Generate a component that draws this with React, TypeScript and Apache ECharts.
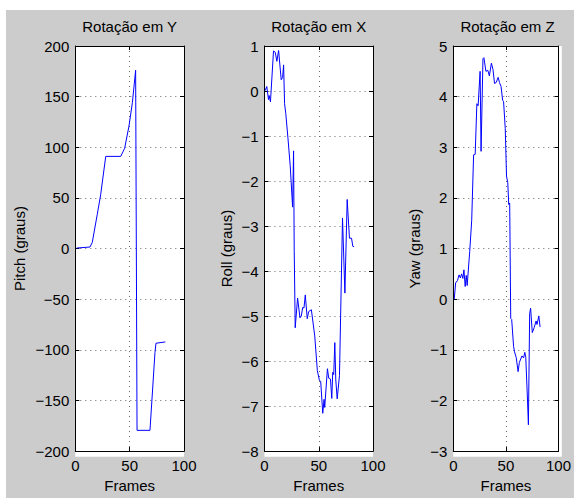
import React, { useEffect, useRef } from "react";
import * as echarts from "echarts";

const titles = ["Rotação em Y", "Rotação em X", "Rotação em Z"];
const yNames = ["Pitch (graus)", "Roll (graus)", "Yaw (graus)"];
const xName = "Frames";
const xTicks = { min: 0, max: 100, interval: 50 };
const yRanges = [
  { min: -200, max: 200, interval: 50 },
  { min: -8, max: 1, interval: 1 },
  { min: -3, max: 5, interval: 1 },
];

const pitchFrames = [1.3, 13.5, 15.6, 20.2, 23.3, 28, 41.8, 45.4, 49.4, 52.5, 55.5, 56.8, 68.7, 73.3, 74.2, 82.8];
const pitchValues = [0.5, 1.5, 6, 33.7, 53, 91, 91, 99, 121, 144, 176, -179.5, -179.5, -102.6, -93.5, -92.2];

const rollFrames = [0.6, 2.1, 3.7, 4.3, 5.5, 8.3, 9.9, 11.4, 13, 15.4, 16.7, 17.6, 18.5, 19.6, 21.6, 23.7, 25.9, 26.8, 27.4, 28.3, 30.5, 32.7, 33.9, 35.2, 36.4, 37.6, 39.4, 40.7, 43.2, 46.3, 48.7, 50.6, 51.8, 53.7, 54.9, 55.5, 58, 59.2, 60.8, 62, 62.9, 63.8, 64.8, 65.7, 67, 69.1, 71.9, 74.1, 76.2, 78.3, 80.2, 81.4, 82.6];
const rollValues = [0.01, 0.1, -0.19, -0.1, -0.24, 0.89, 0.86, 0.66, 0.9, 0.25, 0.3, 0.58, -0.28, -0.5, -1.04, -1.66, -2.58, -1.33, -3.56, -5.26, -4.6, -5.04, -5.0, -4.81, -4.82, -4.53, -5.06, -4.9, -4.86, -5.44, -6.21, -6.43, -6.45, -7.16, -6.85, -7.03, -6.17, -6.38, -6.4, -6.83, -6.25, -6.3, -5.59, -6.42, -6.84, -6.32, -2.82, -4.49, -2.41, -3.27, -3.27, -3.45, -3.46];

const yawFrames = [0.9, 2.2, 4, 5.5, 6.7, 7.9, 9.1, 10.1, 11.3, 12.3, 13.2, 15.6, 17.5, 19.3, 20.8, 22.4, 23.6, 25.5, 26.4, 28.2, 29.1, 31, 32.8, 34.3, 36.2, 37.7, 39.2, 40.8, 42.6, 43.9, 45.4, 46.9, 47.8, 49.4, 50.6, 51.8, 52.7, 53.6, 54.6, 55.5, 57.3, 58.2, 59.8, 61.6, 62.8, 65.3, 66.8, 68, 68.9, 70.5, 71.4, 72.6, 73.5, 75.1, 76.9, 78.7, 79.6, 81.3, 82.5];
const yawValues = [0, 0.32, 0.37, 0.48, 0.42, 0.5, 0.41, 0.58, 0.25, 0.47, 0.27, 0.94, 1.56, 2.85, 2.86, 3.86, 3.82, 4.5, 2.92, 4.75, 4.77, 4.5, 4.52, 4.41, 4.66, 4.54, 4.26, 4.28, 4.38, 4.28, 4.2, 3.93, 3.9, 3.37, 2.43, 2.3, 1.87, 1.9, -0.38, -0.4, -0.93, -1.04, -1.15, -1.43, -1.25, -1.12, -1.16, -1.05, -1.15, -1.97, -2.48, -0.28, -0.18, -0.66, -0.56, -0.43, -0.5, -0.33, -0.55];

const seriesFrames = [pitchFrames, rollFrames, yawFrames];
const seriesValues = [pitchValues, rollValues, yawValues];

const FONT = "'Liberation Sans', Arial, Helvetica, sans-serif";
const FS = 15;
const grids = [
  { left: 75.3, top: 46, width: 108.7, height: 410.7 },
  { left: 264.5, top: 46, width: 108.5, height: 410.7 },
  { left: 453.3, top: 46, width: 108.5, height: 410.7 },
];
const yNameGaps = [48.5, 31, 31.5];

const fmt = (v: number) => String(v).replace("-", "\u2212");

export default function App() {
  const ref = useRef<HTMLDivElement>(null);
  useEffect(() => {
    if (!ref.current) return;
    const chart = echarts.init(ref.current, undefined, { renderer: "svg" });
    const dotted = { color: "#666", width: 1, type: [1, 4] as any };
    const xAxis: any[] = [];
    const yAxis: any[] = [];
    const series: any[] = [];
    grids.forEach((g, i) => {
      xAxis.push({
        type: "value", gridIndex: i, position: "bottom", ...xTicks,
        name: xName, nameLocation: "middle", nameGap: 25,
        nameTextStyle: { fontFamily: FONT, fontSize: FS, color: "#000" },
        axisLine: { show: true, onZero: false, lineStyle: { color: "#000", width: 1 } },
        axisTick: { show: true, inside: true, length: 4, lineStyle: { color: "#000" } },
        axisLabel: { fontFamily: FONT, fontSize: FS, color: "#000", margin: 7, formatter: fmt },
        splitLine: { show: true, lineStyle: dotted },
      });
      xAxis.push({
        type: "value", gridIndex: i, position: "top", ...xTicks,
        axisLine: { show: true, onZero: false, lineStyle: { color: "#000", width: 1 } },
        axisTick: { show: true, inside: true, length: 4, lineStyle: { color: "#000" } },
        axisLabel: { show: false },
        splitLine: { show: false },
      });
      yAxis.push({
        type: "value", gridIndex: i, position: "left", ...yRanges[i],
        name: yNames[i], nameLocation: "middle", nameGap: yNameGaps[i],
        nameTextStyle: { fontFamily: FONT, fontSize: FS, color: "#000" },
        axisLine: { show: true, onZero: false, lineStyle: { color: "#000", width: 1 } },
        axisTick: { show: true, inside: true, length: 4, lineStyle: { color: "#000" } },
        axisLabel: { fontFamily: FONT, fontSize: FS, color: "#000", margin: 6, formatter: fmt },
        splitLine: { show: true, lineStyle: dotted },
      });
      yAxis.push({
        type: "value", gridIndex: i, position: "right", ...yRanges[i],
        axisLine: { show: true, onZero: false, lineStyle: { color: "#000", width: 1 } },
        axisTick: { show: true, inside: true, length: 4, lineStyle: { color: "#000" } },
        axisLabel: { show: false },
        splitLine: { show: false },
      });
      series.push({
        type: "line",
        xAxisIndex: i * 2,
        yAxisIndex: i * 2,
        data: seriesFrames[i].map((f, k) => [f, seriesValues[i][k]]),
        showSymbol: false,
        symbol: "none",
        lineStyle: { color: "#0000ff", width: 1 },
        silent: true,
      });
    });
    chart.setOption({
      animation: false,
      backgroundColor: "#ffffff",
      graphic: [
        { type: "rect", z: -10, silent: true, shape: { x: 6, y: 10, width: 568, height: 488 }, style: { fill: "#cccccc" } },
        ...grids.map((g) => ({
          type: "rect", z: -5, silent: true,
          shape: { x: g.left, y: g.top, width: g.width, height: g.height },
          style: { fill: "#ffffff" },
        })),
      ],
      title: grids.map((g, i) => ({
        text: titles[i],
        left: g.left + g.width / 2,
        top: 19,
        textAlign: "center",
        padding: 0,
        textStyle: { fontFamily: FONT, fontSize: FS, fontWeight: "normal", color: "#000" },
      })),
      grid: grids.map((g) => ({ ...g, containLabel: false })),
      xAxis,
      yAxis,
      series,
    });
    return () => chart.dispose();
  }, []);
  return (
    <div
      ref={ref}
      style={{ position: "absolute", left: 0, top: 0, width: 574, height: 498 }}
    />
  );
}
